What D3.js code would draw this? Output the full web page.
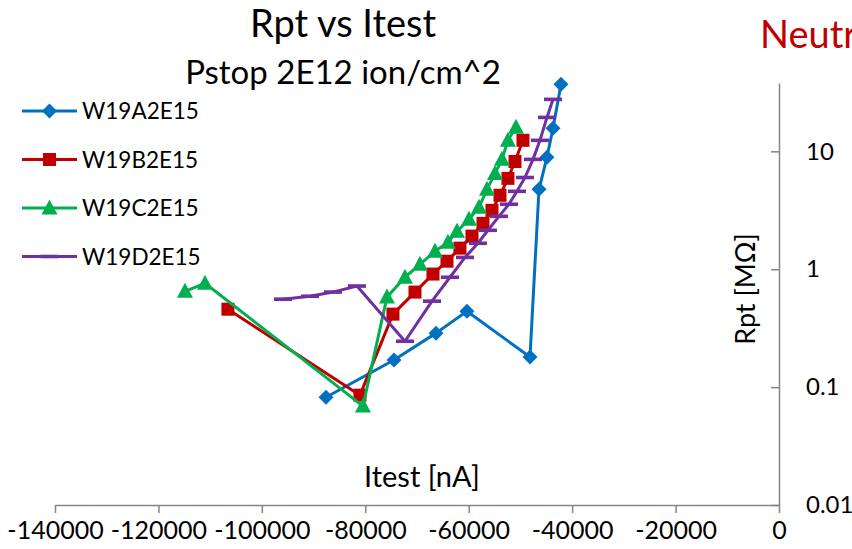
<!DOCTYPE html>
<html>
<head>
<meta charset="utf-8">
<script src="https://cdn.jsdelivr.net/npm/d3@7"></script>
<style>
  body { margin: 0; background: #fff; }
  svg { font-family: Lato, "Liberation Sans", sans-serif; }
</style>
</head>
<body>
<div id="chart"></div>
<script>
// values (Itest in nA, Rpt in MOhm)
var seriesNames = ["W19A2E15", "W19B2E15", "W19C2E15", "W19D2E15"];
var seriesColors = ["#0070C0", "#C00000", "#00B050", "#7030A0"];
var seriesMarkers = ["diamond", "square", "triangle", "dash"];

var itestA = [-87600, -74450, -66330, -60340, -48150, -46410, -44870, -43700, -42160];
var rptA   = [0.082, 0.17, 0.287, 0.44, 0.18, 4.76, 8.9, 15.7, 37];

var itestB = [-106560, -81030, -74650, -70390, -66910, -64200, -61690, -59370, -57240, -55500, -53950, -52410, -51050, -49510];
var rptB   = [0.458, 0.0855, 0.416, 0.64, 0.91, 1.17, 1.51, 1.91, 2.45, 3.16, 4.24, 5.9, 8.2, 12.4];

var itestC = [-114870, -111000, -80450, -75810, -72330, -69430, -66520, -64010, -62270, -59950, -58020, -56470, -54920, -53570, -52410, -50860];
var rptC   = [0.65, 0.76, 0.069, 0.58, 0.855, 1.10, 1.42, 1.69, 2.10, 2.65, 3.35, 4.76, 6.5, 8.55, 12.4, 16];

var itestD = [-95920, -90700, -86250, -81610, -72330, -67100, -63620, -60720, -58210, -56280, -54150, -52210, -50670, -49120, -47570, -46220, -44870, -43700];
var rptD   = [0.557, 0.59, 0.64, 0.72, 0.245, 0.536, 0.855, 1.26, 1.66, 2.14, 2.81, 3.56, 4.58, 6.0, 8.55, 12.4, 19.4, 27.6];

var xTicks = [-140000, -120000, -100000, -80000, -60000, -40000, -20000, 0];
var yTicks = [0.01, 0.1, 1, 10];

var W = 852, H = 549;
var svg = d3.select("#chart").append("svg")
  .attr("width", W)
  .attr("height", H);

var x = d3.scaleLinear().domain([-140000, 0]).range([55, 779]);
var y = d3.scaleLog().domain([0.01, 38]).range([505, 83]);

var axisColor = "#868686";

// x axis (plain hyphen for negatives, like the original)
var gx = svg.append("g")
  .attr("transform", "translate(0,505)")
  .call(d3.axisBottom(x).tickValues(xTicks).tickSize(8).tickSizeOuter(0).tickPadding(8)
    .tickFormat(function(d) { return String(d); }));
gx.select(".domain").attr("stroke", axisColor).attr("stroke-width", 1.5);
gx.selectAll(".tick line").attr("stroke", axisColor).attr("stroke-width", 1.5);
gx.selectAll(".tick text").attr("font-size", 25).attr("fill", "#000")
  .style("font-family", "Lato, sans-serif");

// y axis on the right side (at Itest = 0), ticks pointing left
var gy = svg.append("g")
  .attr("transform", "translate(779,0)")
  .call(d3.axisRight(y).tickValues(yTicks).tickSize(-8).tickSizeOuter(0).tickPadding(27)
    .tickFormat(function(d) { return d >= 1 ? d3.format("d")(d) : String(d); }));
gy.select(".domain").attr("stroke", axisColor).attr("stroke-width", 1.5);
gy.selectAll(".tick line").attr("stroke", axisColor).attr("stroke-width", 1.5);
gy.selectAll(".tick text").attr("font-size", 24).attr("fill", "#000")
  .style("font-family", "Lato, sans-serif");

// titles
svg.append("text").attr("x", 343).attr("y", 37).attr("text-anchor", "middle")
  .attr("font-size", 38).text("Rpt vs Itest");
svg.append("text").attr("x", 343).attr("y", 84).attr("text-anchor", "middle")
  .attr("font-size", 33).text("Pstop 2E12 ion/cm^2");
svg.append("text").attr("x", 760).attr("y", 48)
  .attr("font-size", 38).attr("fill", "#C00000").text("Neutr");
svg.append("text").attr("x", 422).attr("y", 487).attr("text-anchor", "middle")
  .attr("font-size", 29).text("Itest [nA]");
svg.append("text").attr("transform", "translate(755,289)rotate(-90)")
  .attr("text-anchor", "middle").attr("font-size", 27).text("Rpt [M\u03A9]");

// markers
function drawMarker(g, kind, color) {
  if (kind == "diamond") {
    g.append("path").attr("d", "M0,-7.5L7.5,0L0,7.5L-7.5,0Z").attr("fill", color);
  } else if (kind == "square") {
    g.append("rect").attr("x", -6.5).attr("y", -6.5).attr("width", 13).attr("height", 13).attr("fill", color);
  } else if (kind == "triangle") {
    g.append("path").attr("d", "M0,-8.5L8,6.5L-8,6.5Z").attr("fill", color);
  } else {
    g.append("rect").attr("x", -9).attr("y", -1.8).attr("width", 18).attr("height", 3.6).attr("fill", color);
  }
}

var allX = [itestA, itestB, itestC, itestD];
var allY = [rptA, rptB, rptC, rptD];

var line = d3.line()
  .x(function(d) { return x(d[0]); })
  .y(function(d) { return y(d[1]); });

for (var s = 0; s < seriesNames.length; s++) {
  var pts = allX[s].map(function(v, i) { return [v, allY[s][i]]; });
  var g = svg.append("g");
  g.append("path")
    .datum(pts)
    .attr("fill", "none")
    .attr("stroke", seriesColors[s])
    .attr("stroke-width", 3)
    .attr("stroke-linejoin", "round")
    .attr("d", line);
  pts.forEach(function(p) {
    var m = g.append("g").attr("transform", "translate(" + x(p[0]) + "," + y(p[1]) + ")");
    drawMarker(m, seriesMarkers[s], seriesColors[s]);
  });
}

// legend
var legend = svg.append("g");
seriesNames.forEach(function(name, i) {
  var ly = 111 + i * 48.5;
  legend.append("line")
    .attr("x1", 22).attr("x2", 77).attr("y1", ly).attr("y2", ly)
    .attr("stroke", seriesColors[i]).attr("stroke-width", 3);
  var m = legend.append("g").attr("transform", "translate(49.5," + ly + ")");
  drawMarker(m, seriesMarkers[i], seriesColors[i]);
  legend.append("text").attr("x", 82).attr("y", ly + 8)
    .attr("font-size", 22.5).text(name);
});
</script>
</body>
</html>
